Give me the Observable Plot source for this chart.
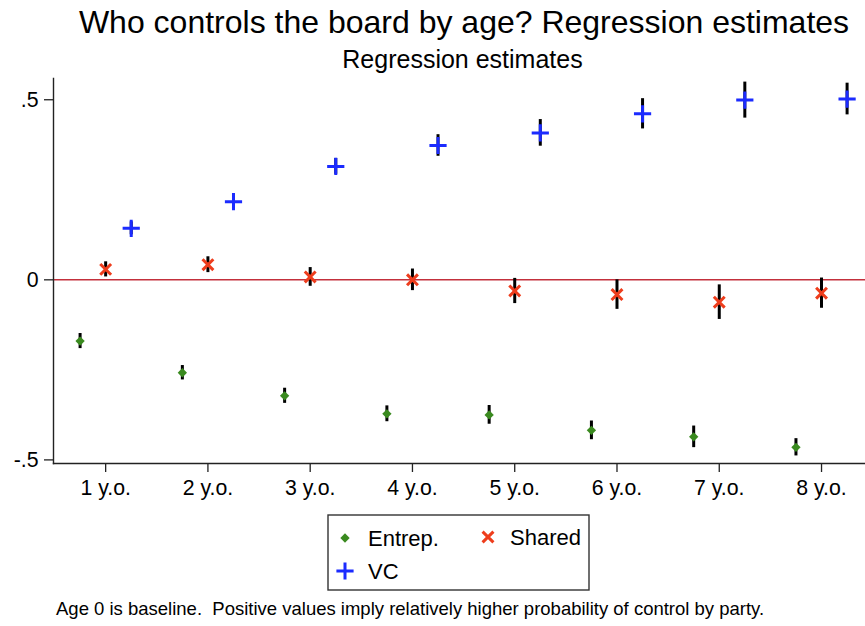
<!DOCTYPE html>
<html>
<head>
<meta charset="utf-8">
<script src="https://cdn.jsdelivr.net/npm/d3@7"></script>
<script src="https://cdn.jsdelivr.net/npm/@observablehq/plot@0.6"></script>
<style>
  html, body { margin: 0; padding: 0; background: #fff; }
  body { width: 865px; height: 626px; position: relative; overflow: hidden;
         font-family: "Liberation Sans", Arial, Helvetica, sans-serif; color: #000; }
  .abs { position: absolute; white-space: pre; line-height: 1; }
  #title { left: 0; width: 928px; text-align: center; top: 6px; font-size: 32px; }
  #subtitle { left: 0; width: 925px; text-align: center; top: 47px; font-size: 25px; }
  #caption { left: 56px; top: 600px; font-size: 18.5px; }
  #chart { position: absolute; left: 0; top: 0; }
  #legend { position: absolute; left: 327px; top: 514px; }
</style>
</head>
<body>
<div id="title" class="abs">Who controls the board by age? Regression estimates</div>
<div id="subtitle" class="abs">Regression estimates</div>
<div id="chart"></div>
<div id="legend"></div>
<div id="caption" class="abs">Age 0 is baseline.  Positive values imply relatively higher probability of control by party.</div>
<script>
// ---- data ----
const ages = [1, 2, 3, 4, 5, 6, 7, 8];
const ageLabels = ["1 y.o.", "2 y.o.", "3 y.o.", "4 y.o.", "5 y.o.", "6 y.o.", "7 y.o.", "8 y.o."];
const entrep   = [-0.170, -0.258, -0.322, -0.372, -0.375, -0.418, -0.436, -0.465];
const entrepCI = [0.021, 0.020, 0.021, 0.022, 0.026, 0.026, 0.030, 0.024];
const shared   = [0.029, 0.042, 0.008, 0.000, -0.031, -0.041, -0.062, -0.037];
const sharedCI = [0.021, 0.022, 0.026, 0.030, 0.035, 0.041, 0.048, 0.042];
const vc       = [0.143, 0.217, 0.315, 0.373, 0.408, 0.461, 0.499, 0.502];
const vcCI     = [0.018, 0.020, 0.022, 0.030, 0.037, 0.042, 0.050, 0.044];
const yTicks = [-0.5, 0, 0.5];
const yTickLabels = ["-.5", "0", ".5"];
const seriesNames = ["Entrep.", "Shared", "VC"];

const colors = {"Entrep.": "#3a8a1f", "Shared": "#ee3d1c", "VC": "#1b2bff"};
const offsets = {"Entrep.": -0.25, "Shared": 0, "VC": 0.25};

const rows = [];
[[seriesNames[0], entrep, entrepCI], [seriesNames[1], shared, sharedCI], [seriesNames[2], vc, vcCI]]
  .forEach(([name, vals, ci]) => ages.forEach((a, i) => rows.push({
    series: name, age: a, xpos: a + offsets[name], y: vals[i], lo: vals[i] - ci[i], hi: vals[i] + ci[i]
  })));

const font = "'Liberation Sans', Arial, Helvetica, sans-serif";
const symSize = {"diamond2": 4.2, "times": 5.0, "plus": 5.6};

const chart = Plot.plot({
  width: 865, height: 505,
  marginLeft: 53, marginRight: 0, marginTop: 78, marginBottom: 42,
  style: {fontFamily: font, background: "transparent", color: "#000"},
  x: {type: "linear", domain: [0.49, 8.43]},
  y: {domain: [-0.51, 0.559]},
  marks: [
    Plot.ruleY([0], {stroke: "#c3303c", strokeWidth: 1.6}),
    Plot.ruleX(rows, {x: "xpos", y1: "lo", y2: "hi", stroke: "#000", strokeWidth: 3}),
    Plot.dot(rows.filter(d => d.series === "Entrep."), {x: "xpos", y: "y", symbol: "diamond2", r: symSize.diamond2, fill: colors["Entrep."], stroke: "none"}),
    Plot.dot(rows.filter(d => d.series === "Shared"), {x: "xpos", y: "y", symbol: "times", r: symSize.times, stroke: colors["Shared"], strokeWidth: 3, fill: "none"}),
    Plot.dot(rows.filter(d => d.series === "VC"), {x: "xpos", y: "y", symbol: "plus", r: symSize.plus, stroke: colors["VC"], strokeWidth: 3, fill: "none"}),
    Plot.axisX({ticks: ages, tickFormat: d => ageLabels[ages.indexOf(d)], tickSize: 9, tickPadding: 7, fontSize: 21.3, label: null, stroke: "#222", strokeWidth: 1.3}),
    Plot.axisY({ticks: yTicks, tickFormat: d => yTickLabels[yTicks.indexOf(d)], tickSize: 9, tickPadding: 6, fontSize: 21.3, label: null, stroke: "#222", strokeWidth: 1.3}),
    Plot.frame({anchor: "left", stroke: "#222", strokeWidth: 1.4}),
    Plot.frame({anchor: "bottom", stroke: "#222", strokeWidth: 1.4})
  ]
});
document.getElementById("chart").appendChild(chart);

// ---- legend ----
const ns = "http://www.w3.org/2000/svg";
const lg = document.createElementNS(ns, "svg");
lg.setAttribute("width", 264); lg.setAttribute("height", 78);
lg.style.fontFamily = font;
const rect = document.createElementNS(ns, "rect");
rect.setAttribute("x", 1); rect.setAttribute("y", 1); rect.setAttribute("width", 261); rect.setAttribute("height", 75);
rect.setAttribute("fill", "#fff"); rect.setAttribute("stroke", "#333"); rect.setAttribute("stroke-width", 1.4);
lg.appendChild(rect);
const items = [
  {name: seriesNames[0], sym: "diamond2", mx: 18, my: 24, tx: 41},
  {name: seriesNames[1], sym: "times", mx: 161, my: 23, tx: 183},
  {name: seriesNames[2], sym: "plus", mx: 18, my: 57, tx: 41}
];
const symTypes = {"diamond2": d3.symbolDiamond2, "times": d3.symbolTimes, "plus": d3.symbolPlus};
items.forEach(it => {
  const p = document.createElementNS(ns, "path");
  const size = Math.PI * symSize[it.sym] ** 2;
  p.setAttribute("d", d3.symbol().type(symTypes[it.sym]).size(size)());
  p.setAttribute("transform", `translate(${it.mx},${it.my})`);
  if (it.sym === "diamond2") { p.setAttribute("fill", colors[it.name]); }
  else { p.setAttribute("fill", "none"); p.setAttribute("stroke", colors[it.name]); p.setAttribute("stroke-width", 3); }
  lg.appendChild(p);
  const t = document.createElementNS(ns, "text");
  t.setAttribute("x", it.tx); t.setAttribute("y", it.my + 8);
  t.setAttribute("font-size", 22);
  t.textContent = it.name;
  lg.appendChild(t);
});
document.getElementById("legend").appendChild(lg);
</script>
</body>
</html>
